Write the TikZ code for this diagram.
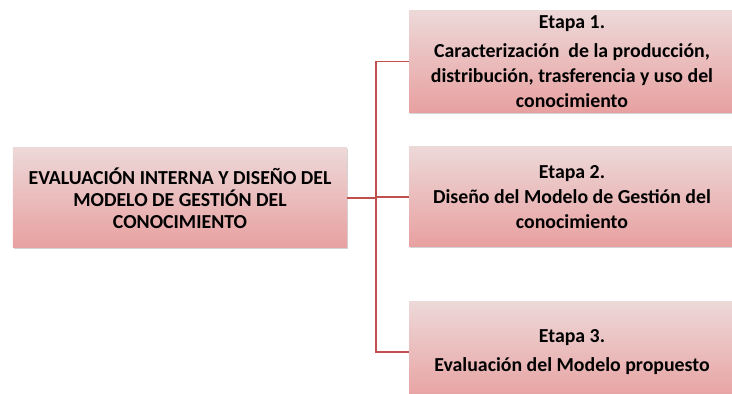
\documentclass[tikz,border=0pt]{standalone}
\usepackage{fontspec}
\setmainfont{Carlito}
\usepackage{tikz}
\usetikzlibrary{positioning, calc, shadows}
\definecolor{boxtop}{RGB}{237,216,216}
\definecolor{boxbottom}{RGB}{232,160,160}
\definecolor{linkred}{RGB}{192,80,77}

\begin{document}
\begin{tikzpicture}[
    box/.style={rectangle, top color=boxtop, bottom color=boxbottom, draw=none,
        minimum height=2.5cm, align=center, font=\bfseries\fontsize{14.1}{17.8}\selectfont,
        drop shadow={shadow xshift=0.6pt, shadow yshift=-1pt, opacity=0.35}},
    link/.style={linkred, line width=1.1pt}
]
    \useasboundingbox (0,0) rectangle (18.3,9.85);
    % Main block
    \node[box, minimum width=8.35cm, font=\bfseries\fontsize{14.1}{15.6}\selectfont] (main) at (4.5,4.9)
        {EVALUACIÓN INTERNA Y DISEÑO DEL\\MODELO DE GESTIÓN DEL\\CONOCIMIENTO};
    % Stages
    \node[box, minimum width=8.15cm, minimum height=2.525cm] (e1) at (14.3,8.31)
        {Etapa 1.\\[3pt]Caracterización\ \ de la producción,\\distribución, trasferencia y uso del\\conocimiento};
    \node[box, minimum width=8.15cm] (e2) at (14.3,4.925)
        {Etapa 2.\\Diseño del Modelo de Gestión del\\conocimiento};
    \node[box, minimum width=8.15cm] (e3) at (14.3,1.05)
        {Etapa 3.\\[3pt]Evaluación del Modelo propuesto};
    % Connectors
    \coordinate (spine) at (9.4,4.9);
    \draw[link] (main.east) -- (spine);
    \draw[link] (spine) |- (e1.west);
    \draw[link] (spine) |- (e2.west);
    \draw[link] (spine) |- (e3.west);
\end{tikzpicture}
\end{document}
